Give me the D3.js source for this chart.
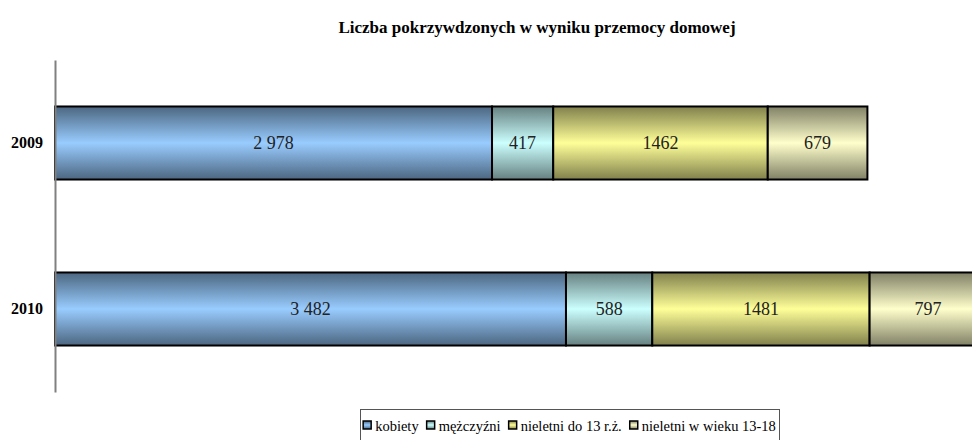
<!DOCTYPE html>
<html><head><meta charset="utf-8">
<script src="https://cdn.jsdelivr.net/npm/d3@7"></script>
<style>body{margin:0;background:#fff;} svg{display:block;}</style>
</head><body>
<svg id="chart" width="972" height="440"></svg>
<script>
const title = "Liczba pokrzywdzonych w wyniku przemocy domowej";
const years = ["2009", "2010"];
const seriesNames = ["kobiety", "mężczyźni", "nieletni do 13 r.ż.", "nieletni w wieku 13-18"];
const kobiety = [2978, 3482];
const mezczyzni = [417, 588];
const nieletniDo13 = [1462, 1481];
const nieletni1318 = [679, 797];
const valueLabels = [["2 978", "3 482"], ["417", "588"], ["1462", "1481"], ["679", "797"]];
const lightColors = ["#99ccff", "#ccffff", "#ffff99", "#ffffcc"];
const darkColors = ["#4c6680", "#668080", "#80804c", "#808066"];

const seriesValues = [kobiety, mezczyzni, nieletniDo13, nieletni1318];
const rows = years.map((y, i) => {
  const o = {year: y};
  seriesNames.forEach((s, k) => o[s] = seriesValues[k][i]);
  return o;
});
const stacked = d3.stack().keys(seriesNames)(rows);

const svg = d3.select("#chart");
const font = "Liberation Serif, DejaVu Serif, serif";

const defs = svg.append("defs");
seriesNames.forEach((s, k) => {
  const g = defs.append("linearGradient").attr("id", "grad" + k)
    .attr("x1", 0).attr("y1", 0).attr("x2", 0).attr("y2", 1);
  g.append("stop").attr("offset", "0%").attr("stop-color", darkColors[k]);
  g.append("stop").attr("offset", "50%").attr("stop-color", lightColors[k]);
  g.append("stop").attr("offset", "100%").attr("stop-color", darkColors[k]);
});

const x = d3.scaleLinear().domain([0, 6000]).range([55, 55 + 6000 * 0.14675]);
const y = d3.scaleBand().domain(years).range([60, 392]).paddingInner(0.56).paddingOuter(0.28);

// title
svg.append("text").attr("x", 537).attr("y", 33).attr("text-anchor", "middle")
  .style("font-family", font).attr("font-weight", "bold").attr("font-size", 17)
  .attr("fill", "#000").text(title);

// bars
const layers = svg.append("g").selectAll("g").data(stacked).join("g")
  .attr("fill", (d, k) => `url(#grad${k})`);
layers.selectAll("rect").data(d => d).join("rect")
  .attr("x", d => x(d[0]))
  .attr("y", d => y(d.data.year))
  .attr("width", d => x(d[1]) - x(d[0]))
  .attr("height", y.bandwidth())
  .attr("stroke", "#000").attr("stroke-width", 2);

// value labels
stacked.forEach((layer, k) => {
  svg.append("g").selectAll("text").data(layer).join("text")
    .attr("x", d => (x(d[0]) + x(d[1])) / 2)
    .attr("y", d => y(d.data.year) + y.bandwidth() / 2)
    .attr("dy", "0.35em").attr("text-anchor", "middle")
    .style("font-family", font).attr("font-size", 18).attr("fill", "#222")
    .text((d, i) => valueLabels[k][i]);
});

// axis
const yAxis = svg.append("g").attr("transform", "translate(55,0)")
  .call(d3.axisLeft(y).tickSize(0).tickPadding(12));
yAxis.select(".domain").attr("stroke", "#808080").attr("stroke-width", 2);
yAxis.selectAll("text").style("font-family", font).attr("font-weight", "bold")
  .attr("font-size", 16).attr("fill", "#000");

// legend
const legend = svg.append("g");
const box = legend.append("rect").attr("y", 409.5).attr("height", 40)
  .attr("fill", "#fff").attr("stroke", "#555").attr("stroke-width", 1);
const items = legend.append("g");
let lx = 0;
seriesNames.forEach((s, k) => {
  items.append("rect").attr("x", lx).attr("y", 421).attr("width", 8).attr("height", 8)
    .attr("fill", `url(#grad${k})`).attr("stroke", "#000").attr("stroke-width", 1.5);
  const t = items.append("text").attr("x", lx + 12).attr("y", 431)
    .style("font-family", font).attr("font-size", 14.5).attr("fill", "#000").text(s);
  lx += 12 + t.node().getComputedTextLength() + 8;
});
const total = lx - 8;
const cx = 569.5;
items.attr("transform", `translate(${cx - total / 2},0)`);
box.attr("x", Math.round(cx - total / 2 - 3) + 0.5).attr("width", Math.round(total + 6));
</script>
</body></html>
